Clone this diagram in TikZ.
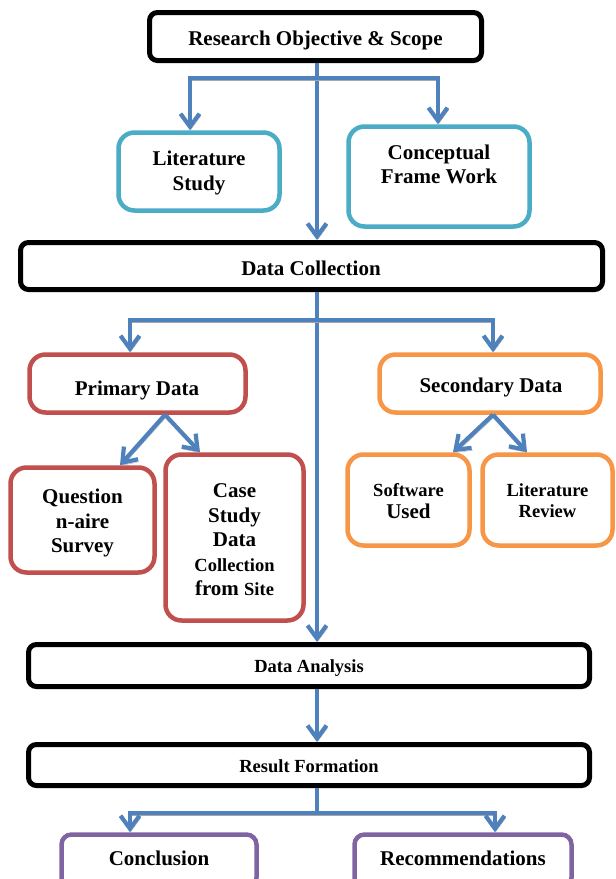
\documentclass[tikz,border=0pt]{standalone}
\usepackage{fontspec}
\setmainfont{Liberation Serif}
\usetikzlibrary{arrows.meta,calc}
\definecolor{flowblue}{HTML}{4F81BD}
\definecolor{boxcyan}{HTML}{4BACC6}
\definecolor{boxred}{HTML}{C0504D}
\definecolor{boxorange}{HTML}{F79646}
\definecolor{boxpurple}{HTML}{8064A2}
\newcommand{\bigtxt}{\fontsize{21}{24.5}\selectfont\bfseries}
\newcommand{\smalltxt}{\fontsize{18.5}{22}\selectfont\bfseries}
\tikzset{
  mainbox/.style={draw=black, line width=5pt, rounded corners=8pt, fill=white, inner sep=0pt},
  subbox/.style={draw=#1, line width=4.5pt, rounded corners=16pt, fill=white, inner sep=0pt},
  txt/.style={inner sep=0pt, align=center, font=\bigtxt},
  smtxt/.style={inner sep=0pt, align=center, font=\smalltxt},
  flowline/.style={draw=flowblue, line width=4.2pt,
    preaction={draw=black!35, transform canvas={shift={(1,2.5)}}}},
  conn/.style={flowline, -{Straight Barb[length=13pt,width=19pt]}},
}
\begin{document}
\begin{tikzpicture}[x=1pt, y=-1pt]
\clip (0,0) rectangle (616,879);
\fill[white] (0,0) rectangle (616,879);

% boxes
\node[mainbox, minimum width=332pt, minimum height=48pt] (rs) at (315.5,36.5) {};
\node[subbox=boxcyan, minimum width=161pt, minimum height=78pt] (lit) at (199,171.5) {};
\node[subbox=boxcyan, minimum width=181pt, minimum height=100pt] (conc) at (439,176.5) {};
\node[mainbox, minimum width=582pt, minimum height=47pt] (dc) at (311.5,266) {};
\node[subbox=boxred, minimum width=216pt, minimum height=58pt] (prim) at (137.5,383.5) {};
\node[subbox=boxorange, minimum width=221pt, minimum height=58pt] (sec) at (490,383.5) {};
\node[subbox=boxred, minimum width=144pt, minimum height=105pt] (quest) at (82.5,520) {};
\node[subbox=boxred, minimum width=138pt, minimum height=166pt] (case) at (234.5,537.5) {};
\node[subbox=boxorange, minimum width=122pt, minimum height=91pt] (soft) at (408.5,500) {};
\node[subbox=boxorange, minimum width=130pt, minimum height=91pt] (litrev) at (547.5,500) {};
\node[mainbox, minimum width=561pt, minimum height=42pt] (da) at (309,665.5) {};
\node[mainbox, minimum width=561pt, minimum height=41pt] (rf) at (309,765) {};
\node[subbox=boxpurple, minimum width=195pt, minimum height=53pt, rounded corners=10pt] (concl) at (159,861) {};
\node[subbox=boxpurple, minimum width=217pt, minimum height=53pt, rounded corners=10pt] (rec) at (463,861) {};

% box texts
\node[txt, anchor=base] (rs-t) at (315.5,45) {Research Objective \& Scope};
\node[txt] (lit-t) at (199,173) {Literature\\Study};
\node[txt] (conc-t) at (439,164.5) {Conceptual\\Frame Work};
\node[txt, anchor=base] (dc-t) at (311,275) {Data Collection};
\node[txt, anchor=base] (prim-t) at (137,395) {Primary Data};
\node[txt, anchor=base] (sec-t) at (491,392) {Secondary Data};
\node[txt] (quest-t) at (82.5,523) {Question\\n-aire\\Survey};
\node[txt] (case-t) at (234.5,540) {Case\\Study\\Data\\{\smalltxt Collection}\\from {\smalltxt Site}};
\node[txt, font=\fontsize{21}{22}\selectfont\bfseries] (soft-t) at (408.5,501.5) {{\smalltxt Software}\\Used};
\node[smtxt, font=\fontsize{18.5}{21}\selectfont\bfseries] (litrev-t) at (547.5,501) {Literature\\Review};
\node[smtxt, anchor=base] (da-t) at (309,672) {Data Analysis};
\node[smtxt, anchor=base] (rf-t) at (309,772) {Result Formation};
\node[txt, anchor=base] (concl-t) at (159,865) {Conclusion};
\node[txt, anchor=base] (rec-t) at (463,865) {Recommendations};

% junctions and leg positions
\coordinate (j1) at (317,78);
\coordinate (j2) at (317,320);
\coordinate (j3) at (317,813);
\coordinate (l1) at (190,0);
\coordinate (r1) at (438,0);
\coordinate (l2) at (130,0);
\coordinate (r2) at (493,0);
\coordinate (l3) at (130,0);
\coordinate (r3) at (495,0);
\coordinate (pa) at (165,0);
\coordinate (pl) at (120,0);
\coordinate (pr) at (200,0);
\coordinate (sa) at (493,0);
\coordinate (sl) at (453,0);
\coordinate (sr) at (527,0);

% connectors
\draw[conn] (rs.south -| j1) -- (dc.north -| j1);
\draw[conn] (j1) -| (lit.north -| l1);
\draw[conn] (j1) -| (conc.north -| r1);

\draw[conn] (dc.south -| j2) -- (da.north -| j2);
\draw[conn] (j2) -| (prim.north -| l2);
\draw[conn] (j2) -| (sec.north -| r2);

\draw[conn] (prim.south -| pa) -- (quest.north -| pl);
\draw[conn] (prim.south -| pa) -- (case.north -| pr);
\draw[conn] (sec.south -| sa) -- (soft.north -| sl);
\draw[conn] (sec.south -| sa) -- (litrev.north -| sr);

\draw[conn] (da.south -| j2) -- (rf.north -| j2);
\draw[flowline] (rf.south -| j3) -- (j3);
\draw[conn] (j3) -| (concl.north -| l3);
\draw[conn] (j3) -| (rec.north -| r3);
\end{tikzpicture}
\end{document}
